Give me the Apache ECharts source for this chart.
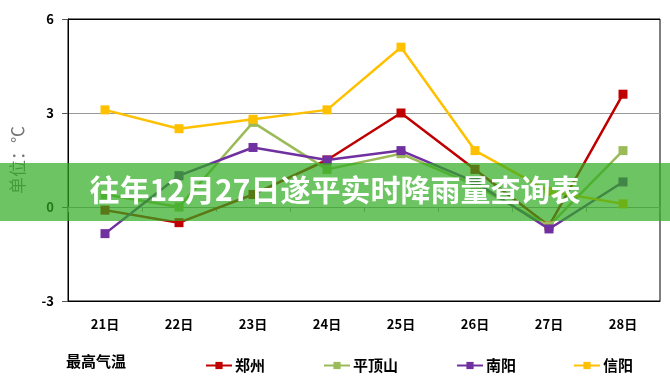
<!DOCTYPE html>
<html>
<head>
<meta charset="utf-8">
<script src="https://cdn.jsdelivr.net/npm/echarts@6/dist/echarts.min.js"></script>
<style>
html,body{margin:0;padding:0;background:#fff;}
#c{width:670px;height:385px;}
</style>
</head>
<body>
<div id="c"></div>
<script>
const categories = ['21日','22日','23日','24日','25日','26日','27日','28日'];
const zhengzhou   = [-0.1, -0.5, 0.4, 1.5, 3.0, 1.2, -0.6, 3.6];
const pingdingshan = [0.4, 0.0, 2.7, 1.2, 1.7, 0.7, -0.6, 1.8];
const nanyang     = [-0.85, 1.0, 1.9, 1.5, 1.8, 0.8, -0.7, 0.8];
const xinyang     = [3.1, 2.5, 2.8, 3.1, 5.1, 1.8, 0.5, 0.1];
const yTicks = [-3, 0, 3, 6];
const seriesNames = ['郑州','平顶山','南阳','信阳'];
const seriesData = [zhengzhou, pingdingshan, nanyang, xinyang];
const colors = ['#C00000','#9BBB59','#7030A0','#FFC000'];
const titleText = '往年12月27日遂平实时降雨量查询表';

const font = '"Noto Sans CJK SC", "Noto Sans", sans-serif';
const chart = echarts.init(document.getElementById('c'));

const legendLefts = [200, 318, 451, 568];

const option = {
  animation: false,
  backgroundColor: '#fff',
  textStyle: { fontFamily: font },
  grid: { left: 68, right: 10, top: 19, bottom: 84, show: true, borderColor: '#000', borderWidth: 1, backgroundColor: 'transparent' },
  legend: seriesNames.map((n, i) => ({
    data: [n], left: legendLefts[i], top: 353,
    itemWidth: 26, itemHeight: 9, itemGap: 4,
    textStyle: { fontFamily: font, fontWeight: 'bold', fontSize: 15, color: '#000', padding: [0,0,0,-2] }
  })),
  xAxis: [
    {
      type: 'category', data: categories, position: 'bottom', boundaryGap: true,
      axisLine: { onZero: false, lineStyle: { color: '#000', width: 1 } },
      axisTick: { show: false },
      axisLabel: { color: '#000', fontWeight: 'bold', fontSize: 13, margin: 17, fontFamily: font }
    },
    {
      type: 'category', data: categories, position: 'top', boundaryGap: true,
      axisLine: { show: true, onZero: true, lineStyle: { color: '#999', width: 1 } },
      axisTick: { show: true, inside: true, length: 5, lineStyle: { color: '#999' } },
      axisLabel: { show: false },
      splitLine: { show: false }
    }
  ],
  yAxis: {
    type: 'value', min: yTicks[0], max: yTicks[yTicks.length - 1], interval: 3,
    name: '单位：℃', nameLocation: 'middle', nameRotate: 90, nameGap: 42,
    nameTextStyle: { color: '#777', fontSize: 17, fontFamily: font },
    axisLine: { show: true, lineStyle: { color: '#000', width: 1 } },
    axisTick: { show: true, length: 6, lineStyle: { color: '#555' } },
    axisLabel: { color: '#000', fontWeight: 'bold', fontSize: 13, margin: 14, fontFamily: font },
    splitLine: { show: true, lineStyle: { color: ['#000', '#999', '#999', '#000'], width: 1 } }
  },
  series: seriesNames.map((n, i) => ({
    name: n, type: 'line', data: seriesData[i], xAxisIndex: 0,
    symbol: 'rect', symbolSize: 9, showSymbol: true,
    lineStyle: { color: colors[i], width: 2.5 },
    itemStyle: { color: colors[i] },
    z: 2 + i
  })),
  graphic: [
    {
      type: 'text', left: 66, top: 354, z: 10,
      style: { text: '最高气温', font: 'bold 15px ' + font, fill: '#000' }
    },
    {
      type: 'rect', left: 0, top: 163, z: 100,
      shape: { width: 670, height: 58 },
      style: { fill: 'rgba(45,171,31,0.7)' }
    },
    {
      type: 'text', z: 101, left: 'center', top: 175,
      style: { text: titleText, font: 'bold 30px ' + font, fill: '#fff' }
    }
  ]
};
chart.setOption(option);
</script>
</body>
</html>
